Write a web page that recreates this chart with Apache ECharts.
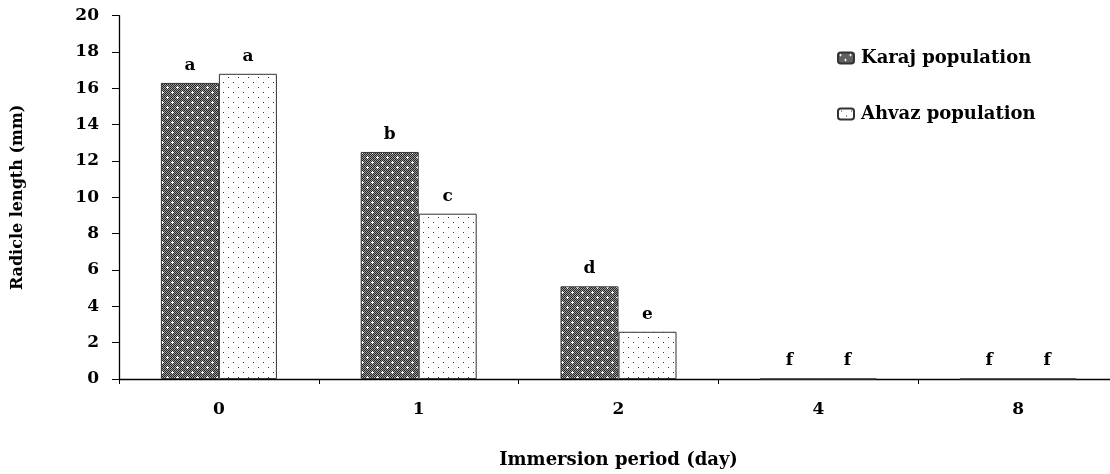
<!DOCTYPE html>
<html>
<head>
<meta charset="utf-8">
<script src="https://cdn.jsdelivr.net/npm/echarts@6/dist/echarts.min.js"></script>
<style>
html,body{margin:0;padding:0;background:#fff;}
#chart{width:1110px;height:474px;}
</style>
</head>
<body>
<div id="chart"></div>
<script>
const categories = ['0', '1', '2', '4', '8'];
const karajValues = [16.3, 12.5, 5.1, 0, 0];
const ahvazValues = [16.8, 9.1, 2.6, 0, 0];
const karajLetters = ['a', 'b', 'd', 'f', 'f'];
const ahvazLetters = ['a', 'c', 'e', 'f', 'f'];
const seriesNames = ['Karaj population', 'Ahvaz population'];
const yMin = 0, yMax = 20, yInterval = 2;

function makePattern(kind) {
  const c = document.createElement('canvas');
  c.width = 10; c.height = 10;
  const ctx = c.getContext('2d');
  if (kind === 'dark') {
    for (let y = 0; y < 10; y++) {
      for (let x = 0; x < 10; x++) {
        ctx.fillStyle = ((x + y) % 2 === 0) ? '#262626' : '#9a9a9a';
        ctx.fillRect(x, y, 1, 1);
      }
    }
    ctx.fillStyle = '#ffffff';
    [[2, 2], [7, 7]].forEach(function (p) {
      ctx.fillRect(p[0], p[1], 1, 1);
      ctx.fillRect(p[0] - 1, p[1], 1, 1);
      ctx.fillRect(p[0] + 1, p[1], 1, 1);
      ctx.fillRect(p[0], p[1] - 1, 1, 1);
      ctx.fillRect(p[0], p[1] + 1, 1, 1);
    });
  } else {
    ctx.fillStyle = '#ffffff';
    ctx.fillRect(0, 0, 10, 10);
    ctx.fillStyle = '#333333';
    ctx.fillRect(3, 2, 1, 1);
    ctx.fillRect(8, 7, 1, 1);
  }
  return c;
}

const FONT = '"DejaVu Serif", "Liberation Serif", serif';
const chart = echarts.init(document.getElementById('chart'), null, { renderer: 'canvas' });

function labelFor(letters) {
  return {
    show: true,
    position: 'top',
    distance: 9,
    color: '#000',
    fontFamily: FONT,
    fontWeight: 'bold',
    fontSize: 17,
    formatter: function (p) { return letters[p.dataIndex]; }
  };
}

chart.setOption({
  animation: false,
  backgroundColor: '#fff',
  textStyle: { fontFamily: FONT },
  grid: { left: 119, top: 15.7, width: 999, bottom: 95, containLabel: false, outerBoundsMode: 'none' },
  legend: {
    data: seriesNames,
    orient: 'vertical',
    left: 837,
    top: 49,
    padding: 0,
    itemWidth: 16,
    itemHeight: 11,
    itemGap: 38,
    textStyle: { fontFamily: FONT, fontWeight: 'bold', fontSize: 18, color: '#000', padding: [0, 0, 0, 2] }
  },
  xAxis: {
    type: 'category',
    data: categories,
    name: 'Immersion period (day)',
    nameLocation: 'middle',
    nameGap: 72,
    nameTextStyle: { fontFamily: FONT, fontWeight: 'bold', fontSize: 18, color: '#000' },
    axisLine: { lineStyle: { color: '#000', width: 1.3 } },
    axisTick: { show: true, length: 5, inside: false, alignWithLabel: false, lineStyle: { color: '#000' } },
    axisLabel: { margin: 22, fontFamily: FONT, fontWeight: 'bold', fontSize: 17, color: '#000' },
    splitLine: { show: false }
  },
  yAxis: {
    type: 'value',
    min: yMin,
    max: yMax,
    interval: yInterval,
    name: 'Radicle length (mm)',
    nameLocation: 'middle',
    nameGap: 93,
    nameTextStyle: { fontFamily: FONT, fontWeight: 'bold', fontSize: 16, color: '#000' },
    axisLine: { show: true, lineStyle: { color: '#000', width: 1.3 } },
    axisTick: { show: true, length: 7, inside: false, lineStyle: { color: '#000' } },
    axisLabel: { margin: 20, fontFamily: FONT, fontWeight: 'bold', fontSize: 17, color: '#000' },
    splitLine: { show: false }
  },
  series: [
    {
      name: seriesNames[0],
      type: 'bar',
      data: karajValues,
      barWidth: 58,
      barGap: '0%',
      itemStyle: { color: { image: makePattern('dark'), repeat: 'repeat' }, borderColor: '#333', borderWidth: 1 },
      label: labelFor(karajLetters)
    },
    {
      name: seriesNames[1],
      type: 'bar',
      data: ahvazValues,
      barWidth: 58,
      barGap: '0%',
      itemStyle: { color: { image: makePattern('light'), repeat: 'repeat' }, borderColor: '#333', borderWidth: 1 },
      label: labelFor(ahvazLetters)
    }
  ]
});
</script>
</body>
</html>
